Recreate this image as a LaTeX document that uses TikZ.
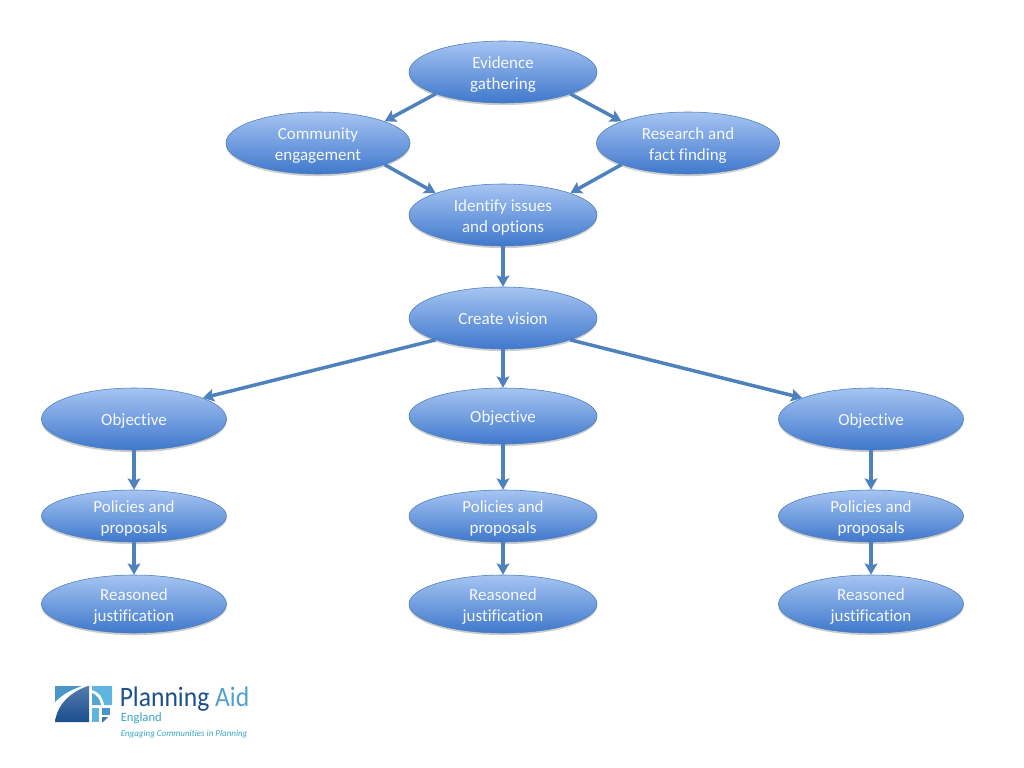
\documentclass[tikz,border=0pt]{standalone}
\usepackage{fontspec}
\setmainfont[Ligatures=NoCommon]{Carlito}
\usetikzlibrary{shapes.geometric,shadows,arrows.meta}
\definecolor{ovaltop}{HTML}{A6C4F2}
\definecolor{ovalbot}{HTML}{3F78CC}
\definecolor{ovalline}{HTML}{4A7EBB}
\definecolor{linkblue}{HTML}{4F81BD}
\definecolor{logodark}{HTML}{1B4F8F}
\definecolor{logolight}{HTML}{5FB4E0}
\definecolor{logoteal}{HTML}{35A5C8}
\tikzset{
	oval/.style={ellipse,draw=ovalline,line width=0.4pt,top color=ovaltop,bottom color=ovalbot,
		text=white!88!ovaltop,font=\fontsize{12.1}{15}\selectfont,align=center,inner xsep=0pt,inner ysep=-12pt,
		execute at begin node={\rule{0pt}{#1}},
		execute at end node={\rule[-3pt]{0pt}{3pt}},
		drop shadow={shadow xshift=0pt,shadow yshift=-1.5pt,opacity=0.2,fill=black}},
	oval/.default=12pt,
	link/.style={->,draw=linkblue,line width=2.5pt},
}
\begin{document}
\begin{tikzpicture}[x=0.025cm,y=-0.025cm,>={Stealth[inset=1.5pt,length=8pt,width=9pt]}]
	\useasboundingbox (0,0) rectangle (1024,768);
	% top of the chart
	\node[oval=27.5pt,minimum width=188*0.025cm,minimum height=62*0.025cm] (evidence) at (503,72) {Evidence\\gathering};
	\node[oval=27.5pt,minimum width=184*0.025cm,minimum height=62*0.025cm] (community) at (318,143) {Community\\engagement};
	\node[oval=27.5pt,minimum width=183*0.025cm,minimum height=62*0.025cm] (research) at (688,143) {Research and\\fact finding};
	\node[oval=27.5pt,minimum width=188*0.025cm,minimum height=62*0.025cm] (issues) at (503,215) {Identify issues\\and options};
	\node[oval,minimum width=188*0.025cm,minimum height=62*0.025cm] (vision) at (503,318) {Create vision};
	% three columns
	\foreach \nm/\x/\w/\oy/\oh in {l/134/185/419/62,m/503/188/416/56,r/871/185/419/62}{
		\node[oval,minimum width=\w*0.025cm,minimum height=\oh*0.025cm] (obj\nm) at (\x,\oy) {Objective};
		\node[oval=27.5pt,minimum width=\w*0.025cm,minimum height=52*0.025cm] (pol\nm) at (\x,516) {Policies and\\proposals};
		\node[oval=27.5pt,minimum width=\w*0.025cm,minimum height=58*0.025cm] (rea\nm) at (\x,604) {Reasoned\\justification};
		\draw[link] (obj\nm.south)--(pol\nm.north);
		\draw[link] (pol\nm.south)--(rea\nm.north);
	}
	\draw[link] (evidence.198)--(community.18);
	\draw[link] (evidence.-18)--(research.162);
	\draw[link] (community.-18)--(issues.162);
	\draw[link] (research.198)--(issues.18);
	\draw[link] (issues.south)--(vision.north);
	\draw[link] (vision.198)--(objl.17);
	\draw[link] (vision.south)--(objm.north);
	\draw[link] (vision.-18)--(objr.163);
	% logo
	\fill[logolight!70!logodark] (55,686) -- (82,686) .. controls (70,690) and (62,695) .. (55,702) -- cycle;
	\shade[top color=logodark!75!white,bottom color=logodark] (55,722) .. controls (57,705) and (70,692) .. (88,686) -- (89,686) -- (89,722) -- cycle;
	\fill[logolight] (92,686) -- (112,686) -- (112,705) -- (104,705) .. controls (103,697) and (99,692) .. (92,690) -- cycle;
	\fill[logolight!85!logodark] (92,693) .. controls (97,695) and (100,699) .. (101,705) -- (92,705) -- cycle;
	\fill[logolight] (92,708) rectangle (99,722);
	\fill[logolight!70!logodark] (102,708) rectangle (110,715);
	\fill[logodark!80!white] (102,717) -- (108,717) -- (103,722) -- (102,722) -- cycle;
	\node[anchor=base west,inner sep=0pt,xscale=0.91,font=\fontsize{20}{20}\selectfont,text=logodark] (logoname) at (119.5,706) {Planning \textcolor{logolight!80!logodark}{Aid}};
	\node[anchor=base west,inner sep=0pt,font=\fontsize{9}{9}\selectfont,text=logoteal] (logoland) at (120.5,721.5) {England};
	\node[anchor=base west,inner sep=0pt,font=\itshape\fontsize{6.4}{7}\selectfont,text=logoteal] (logotag) at (120.5,736) {Engaging Communities in Planning};
\end{tikzpicture}
\end{document}
